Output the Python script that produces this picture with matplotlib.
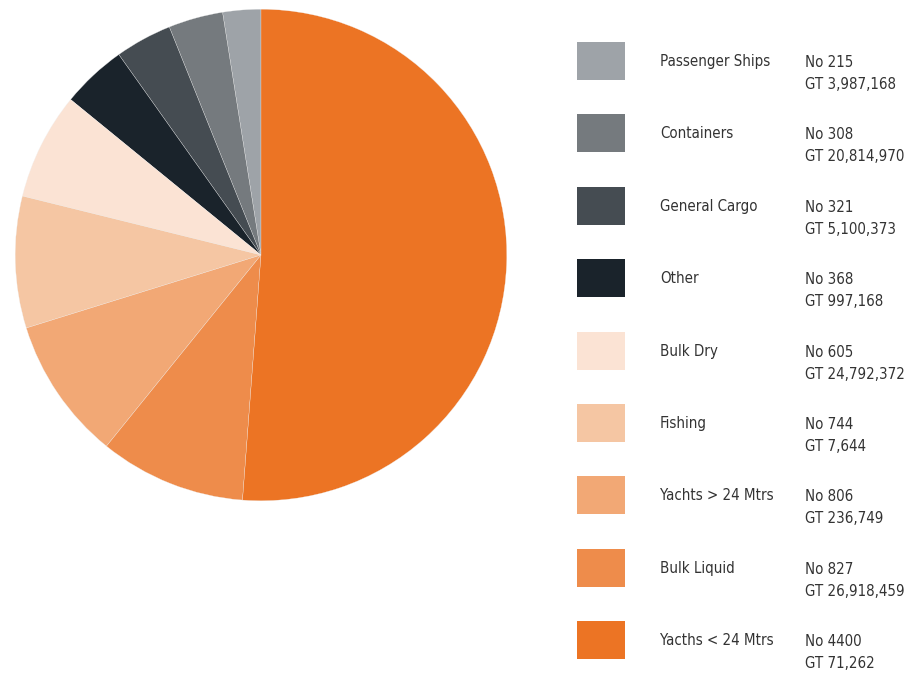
import matplotlib.pyplot as plt
from matplotlib.patches import Rectangle

# vessel categories (legend order, top to bottom)
categories = ["Passenger Ships", "Containers", "General Cargo", "Other", "Bulk Dry",
              "Fishing", "Yachts > 24 Mtrs", "Bulk Liquid", "Yacths < 24 Mtrs"]
counts = [215, 308, 321, 368, 605, 744, 806, 827, 4400]
gross_tonnage = ["3,987,168", "20,814,970", "5,100,373", "997,168", "24,792,372",
                 "7,644", "236,749", "26,918,459", "71,262"]
colors = ["#9ea3a8", "#757a7e", "#454c52", "#1a232b", "#fbe3d4",
          "#f5c6a3", "#f2a875", "#ee8c4b", "#ec7424"]

W, H = 907, 673
fig = plt.figure(figsize=(W / 100, H / 100), dpi=100)

# pie, centre (261, 255) px, radius 247 px
cx, cy, r = 261, 255, 247
ax = fig.add_axes([(cx - r) / W, 1 - (cy + r) / H, 2 * r / W, 2 * r / H])
ax.pie(counts, colors=colors, startangle=90, counterclock=True,
       wedgeprops=dict(linewidth=0.2, edgecolor="#f0f0f0"))
ax.set_xlim(-1.005, 1.005)
ax.set_ylim(-1.005, 1.005)
ax.set_aspect("equal")

font = ["DejaVu Sans"]
txt_color = "#333333"
fs = 10.8

# legend
step = 72.4
for i, (cat, n, gt, c) in enumerate(zip(categories, counts, gross_tonnage, colors)):
    top = 42 + step * i
    fig.add_artist(Rectangle((577 / W, 1 - (top + 38) / H), 48 / W, 38 / H,
                             transform=fig.transFigure, facecolor=c, edgecolor="none"))
    ymid = top + 19.5
    kw = dict(family=font, stretch="condensed", fontsize=fs, color=txt_color,
              va="center", ha="left")
    fig.text(660 / W, 1 - ymid / H, cat, **kw)
    fig.text(805 / W, 1 - (ymid + 1) / H, f"No {n}", **kw)
    fig.text(805 / W, 1 - (ymid + 23) / H, f"GT {gt}", **kw)

plt.savefig("out.png", dpi=100)
